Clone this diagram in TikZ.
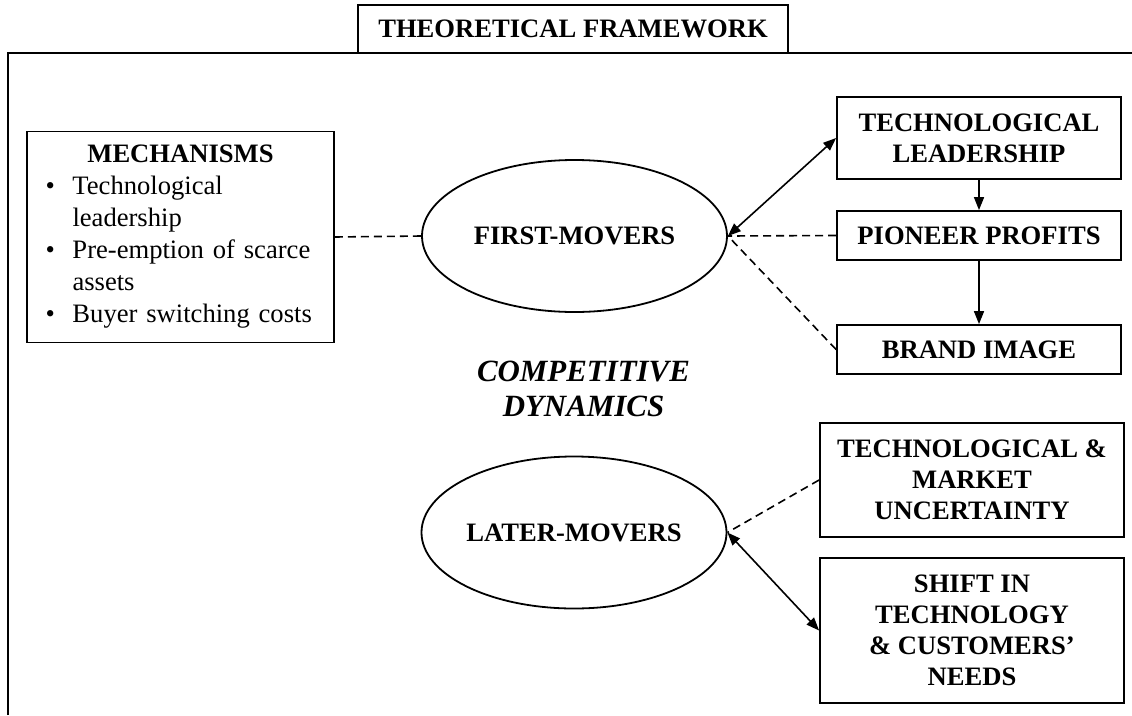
\documentclass[tikz,border=0pt]{standalone}
\usepackage{fontspec}
\setmainfont{Liberation Serif}
\usetikzlibrary{shapes.geometric,arrows.meta}
\begin{document}
\begin{tikzpicture}[x=1pt,y=-1pt,
  txt/.style={font=\bfseries\fontsize{26.6}{31}\selectfont},
  box/.style={txt,draw,line width=1.8pt,rectangle,inner sep=0pt,align=center},
  oval/.style={txt,draw,ellipse,line width=1.8pt,minimum width=305pt,minimum height=152pt,inner sep=0pt},
  link/.style={line width=1.6pt},
  dashlink/.style={line width=1.6pt,dash pattern=on 8pt off 5pt},
  tip/.style={-{Triangle[length=13pt,width=10pt]}},
  twotip/.style={{Triangle[length=13pt,width=10pt]}-{Triangle[length=13pt,width=10pt]}}]
\useasboundingbox (0,0) rectangle (1132,715);

% outer frame and its heading tab
\draw[line width=2pt] (8,715) -- (8,53) -- (1132,53);
\node[box,minimum width=430pt,minimum height=48pt] (title) at (573,29) {THEORETICAL FRAMEWORK};

% mechanisms list
\node[draw,line width=1.8pt,rectangle,minimum width=307pt,minimum height=211pt,
      text width=270pt,align=left,inner sep=0pt,font=\fontsize{26.6}{32}\selectfont]
  (mech) at (180.5,237) {\makebox[270pt][c]{\bfseries MECHANISMS}\\
  \makebox[27pt][l]{\textbullet}Technological\\
  \hspace*{27pt}leadership\\
  \makebox[27pt][l]{\textbullet}Pre-emption of scarce\\
  \hspace*{27pt}assets\\
  \makebox[27pt][l]{\textbullet}Buyer switching costs};

% the two groups of movers
\node[oval] (fm) at (574.5,236) {FIRST-MOVERS};
\node[oval] (lm) at (574,532.5) {LATER-MOVERS};

\node[font=\bfseries\itshape\fontsize{30.9}{35}\selectfont,align=center,inner sep=0pt]
  (cd) at (583.5,389) {COMPETITIVE\\DYNAMICS};

% first-mover outcomes
\node[box,minimum width=284pt,minimum height=82pt] (tl) at (979,138) {TECHNOLOGICAL\\LEADERSHIP};
\node[box,minimum width=284pt,minimum height=49pt] (pp) at (979,235.5) {PIONEER PROFITS};
\node[box,minimum width=284pt,minimum height=49pt] (bi) at (979,349.5) {BRAND IMAGE};

% later-mover factors
\node[box,minimum width=304pt,minimum height=114pt] (tmu) at (972,480) {TECHNOLOGICAL \&\\MARKET\\UNCERTAINTY};
\node[box,minimum width=304pt,minimum height=145pt] (sh) at (972,630.5) {SHIFT IN\\TECHNOLOGY\\\& CUSTOMERS’\\NEEDS};

% connectors
\draw[dashlink] (mech.east) -- (fm.west);
\draw[link,twotip] (fm.east) -- (tl.west);
\draw[dashlink] (pp.west) -- (fm.east);
\draw[dashlink] (bi.west) -- (fm.east);
\draw[link,tip] (tl.south) -- (pp.north);
\draw[link,tip] (pp.south) -- (bi.north);
\draw[dashlink] (tmu.west) -- (lm.east);
\draw[link,twotip] (lm.east) -- (sh.west);
\end{tikzpicture}
\end{document}
